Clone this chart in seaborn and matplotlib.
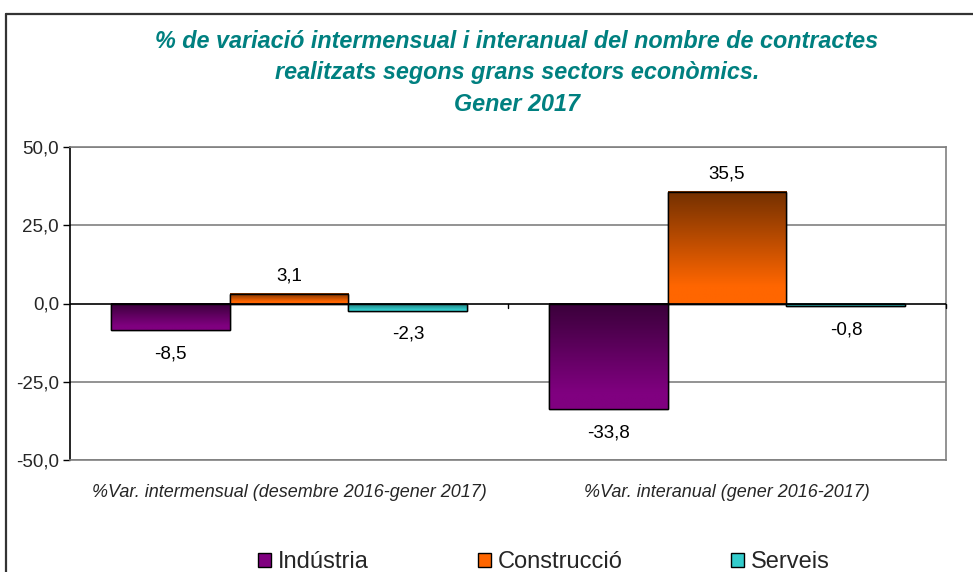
import numpy as np
import pandas as pd
import matplotlib
matplotlib.use('Agg')
import matplotlib.pyplot as plt
import seaborn as sns
from matplotlib.colors import LinearSegmentedColormap
from matplotlib.patches import Rectangle
from matplotlib.lines import Line2D
from matplotlib.ticker import FuncFormatter

# Data
periods = ['%Var. intermensual (desembre 2016-gener 2017)',
           '%Var. interanual (gener 2016-2017)']
sectors = ['Indústria', 'Construcció', 'Serveis']
industria = [-8.5, -33.8]
construccio = [3.1, 35.5]
serveis = [-2.3, -0.8]

title_lines = ['% de variació intermensual i interanual del nombre de contractes',
               'realitzats segons grans sectors econòmics.',
               'Gener 2017']

df = pd.DataFrame({
    'periode': periods * 3,
    'sector': [s for s in sectors for _ in periods],
    'valor': industria + construccio + serveis,
})

# colours: light (bottom) and dark (top) of the gradient
base_colors = {'Indústria': '#800080', 'Construcció': '#ff6600', 'Serveis': '#33cccc'}
dark_colors = {'Indústria': '#3a003a', 'Construcció': '#733000', 'Serveis': '#1d7070'}

sns.set_style('white')
plt.rcParams['font.family'] = ['Liberation Sans', 'DejaVu Sans']

fig = plt.figure(figsize=(9.73, 5.72), dpi=100)
ax = fig.add_axes([70 / 973, 112 / 572, 876 / 973, 313 / 572])

sns.barplot(data=df, x='periode', y='valor', hue='sector', order=periods,
            hue_order=sectors, palette=base_colors, width=0.815,
            edgecolor='black', linewidth=1.0, saturation=1, ax=ax)

ax.set_xlim(-0.5, 1.5)
ax.set_ylim(-50, 50)
ax.set_yticks([-50, -25, 0, 25, 50])
ax.yaxis.set_major_formatter(FuncFormatter(lambda v, p: f'{v:.1f}'.replace('.', ',')))
ax.tick_params(axis='y', length=5, width=1, color='black', labelsize=13.5, pad=3, direction='out', left=True)
ax.tick_params(axis='x', length=0, labelsize=13, pad=17)
for lab in ax.get_xticklabels():
    lab.set_fontstyle('italic')
ax.set_xlabel('')
ax.set_ylabel('')

# gridlines and frame
for v in [-50, -25, 25, 50]:
    ax.axhline(v, color='#808080', lw=1.2, zorder=0.5)
ax.axhline(0, color='black', lw=1.2, zorder=3)
for x in [0.5, 1.5]:
    ax.plot([x, x], [0, -1.5], color='black', lw=1, zorder=3, clip_on=False)
for side in ['top', 'right', 'bottom']:
    ax.spines[side].set_color('#808080')
    ax.spines[side].set_linewidth(1.2)
ax.spines['left'].set_color('black')
ax.spines['left'].set_linewidth(1.2)

# gradient fill on the bars
bar_patches = [p for p in ax.patches if p.get_height() != 0]
grad = np.linspace(0, 1, 256).reshape(-1, 1)
for p in bar_patches:
    sector = None
    fc = p.get_facecolor()
    for s in sectors:
        if np.allclose(fc[:3], matplotlib.colors.to_rgb(base_colors[s]), atol=0.02):
            sector = s
    cmap = LinearSegmentedColormap.from_list(
        'g', [(0, dark_colors[sector]), (0.85, base_colors[sector]), (1, base_colors[sector])])
    x0, y0 = p.get_x(), p.get_y()
    w, h = p.get_width(), p.get_height()
    ylo, yhi = min(y0, y0 + h), max(y0, y0 + h)
    ax.imshow(grad, cmap=cmap, aspect='auto', origin='upper',
              extent=(x0, x0 + w, ylo, yhi), zorder=2.1, interpolation='bilinear')
    ax.add_patch(Rectangle((x0, ylo), w, yhi - ylo, fill=False,
                           edgecolor='black', lw=1.0, zorder=2.2))
ax.set_xlim(-0.5, 1.5)
ax.set_ylim(-50, 50)

# data labels
for p in bar_patches:
    h = p.get_height()
    end = p.get_y() + h
    off = 13 if h > 0 else -17
    ax.annotate(f'{h:.1f}'.replace('.', ','), (p.get_x() + p.get_width() / 2, end),
                xytext=(0, off), textcoords='offset points', ha='center', va='center',
                fontsize=13.5, color='black', zorder=4)

# legend
leg = ax.legend(loc='center', bbox_to_anchor=(544 / 973, 10 / 572),
                bbox_transform=fig.transFigure, ncol=3, frameon=False,
                fontsize=17, handlelength=0.55, handleheight=0.55,
                handletextpad=0.3, columnspacing=4.6)
for h in leg.legend_handles:
    h.set_edgecolor('black')
    h.set_linewidth(1)

# title
for i, line in enumerate(title_lines):
    fig.text(517 / 973, 1 - (42 + 31 * i) / 572, line, ha='center', va='center',
             fontsize=16.8, fontweight='bold', fontstyle='italic', color='#008080')

# chart frame (cut off at right and bottom)
fig.add_artist(Line2D([6 / 973, 6 / 973], [0, 1 - 14 / 572], color='#333333', lw=1.6))
fig.add_artist(Line2D([6 / 973, 1], [1 - 14 / 572, 1 - 14 / 572], color='#333333', lw=1.6))

fig.savefig('out.png', dpi=100)
